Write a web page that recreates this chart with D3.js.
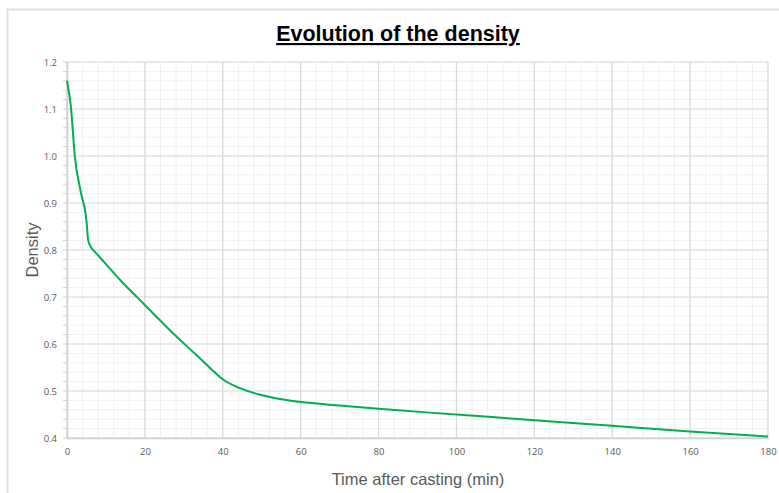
<!DOCTYPE html>
<html>
<head>
<meta charset="utf-8">
<script src="https://cdn.jsdelivr.net/npm/d3@7"></script>
<style>
body{margin:0;background:#fff;}
</style>
</head>
<body>
<svg class="chart" width="779" height="493"></svg>
<script>
var timeMin = [0, 1, 2, 3.5, 5.06, 5.4, 6.07, 7.2, 10, 14, 18.3, 22, 27.7, 33.3, 37, 40, 44.4, 49.6, 54.7, 59.8, 70, 80, 100, 120, 140, 160, 180];
var density = [1.16, 1.105, 1.0, 0.925, 0.857, 0.822, 0.807, 0.796, 0.770, 0.733, 0.697, 0.666, 0.619, 0.576, 0.547, 0.525, 0.506, 0.492, 0.483, 0.477, 0.469, 0.462, 0.450, 0.438, 0.426, 0.414, 0.403];
var xTicks = [0, 20, 40, 60, 80, 100, 120, 140, 160, 180];
var yTicks = [0.4, 0.5, 0.6, 0.7, 0.8, 0.9, 1.0, 1.1, 1.2];

var svg = d3.select('.chart');
var margin = {left: 67, right: 11, top: 62, bottom: 55};
var w = 779 - margin.left - margin.right,
    h = 493 - margin.top - margin.bottom;

// chart frame
svg.append('rect')
	.attr('x', 7.5).attr('y', 9.5)
	.attr('width', 800).attr('height', 600)
	.attr('fill', 'none').attr('stroke', '#e0e0e0').attr('stroke-width', 2);

var x = d3.scaleLinear().domain([0, 180]).range([margin.left, margin.left + w]);
var y = d3.scaleLinear().domain([0.4, 1.2]).range([margin.top + h, margin.top]);

var grid = svg.append('g').attr('class', 'grid');
// minor grid
grid.selectAll('line.mx').data(d3.range(0, 181, 4)).enter().append('line')
	.attr('x1', function(d){ return x(d); }).attr('x2', function(d){ return x(d); })
	.attr('y1', y(0.4)).attr('y2', y(1.2))
	.attr('stroke', '#f0f0f0').attr('stroke-width', 1);
grid.selectAll('line.my').data(d3.range(0.4, 1.2001, 0.02)).enter().append('line')
	.attr('x1', x(0)).attr('x2', x(180))
	.attr('y1', function(d){ return y(d); }).attr('y2', function(d){ return y(d); })
	.attr('stroke', '#f0f0f0').attr('stroke-width', 1);
// major grid
grid.selectAll('line.Mx').data(xTicks).enter().append('line')
	.attr('x1', function(d){ return x(d); }).attr('x2', function(d){ return x(d); })
	.attr('y1', y(0.4)).attr('y2', y(1.2))
	.attr('stroke', '#d9d9d9').attr('stroke-width', 1.2);
grid.selectAll('line.My').data(yTicks).enter().append('line')
	.attr('x1', x(0)).attr('x2', x(180))
	.attr('y1', function(d){ return y(d); }).attr('y2', function(d){ return y(d); })
	.attr('stroke', '#d9d9d9').attr('stroke-width', 1.2);

// y minor tick marks
grid.selectAll('line.ty').data(d3.range(0.4, 1.2001, 0.02)).enter().append('line')
	.attr('x1', x(0) - 4).attr('x2', x(0))
	.attr('y1', function(d){ return y(d); }).attr('y2', function(d){ return y(d); })
	.attr('stroke', '#d0d0d0');

// axes
var xAxis = svg.append('g')
	.attr('transform', 'translate(0,' + y(0.4) + ')')
	.call(d3.axisBottom(x).tickValues(xTicks).tickSize(0).tickPadding(10));
var yAxis = svg.append('g')
	.attr('transform', 'translate(' + x(0) + ',0)')
	.call(d3.axisLeft(y).tickValues(yTicks).tickSize(0).tickPadding(10).tickFormat(d3.format('.1f')));
[xAxis, yAxis].forEach(function(a){
	a.select('.domain').attr('stroke', '#d0d0d0').attr('stroke-width', 1.5);
	a.selectAll('text').attr('fill', '#595959').attr('font-size', 9.5).attr('font-family', 'Open Sans, sans-serif');
});

// line
var line = d3.line()
	.x(function(d, i){ return x(timeMin[i]); })
	.y(function(d){ return y(d); })
	.curve(d3.curveMonotoneX);
svg.append('path')
	.datum(density)
	.attr('fill', 'none')
	.attr('stroke', '#00b050')
	.attr('stroke-width', 2)
	.attr('d', line);

// titles
svg.append('text')
	.attr('x', 398).attr('y', 41)
	.attr('text-anchor', 'middle')
	.attr('font-family', 'Liberation Sans, Arial, sans-serif')
	.attr('font-weight', 'bold').attr('font-size', 21.5)
	.attr('text-decoration', 'underline')
	.attr('fill', '#000')
	.text('Evolution of the density');
svg.append('text')
	.attr('x', 418).attr('y', 485)
	.attr('text-anchor', 'middle')
	.attr('font-family', 'Liberation Sans, Arial, sans-serif')
	.attr('font-size', 16.5).attr('fill', '#595959')
	.text('Time after casting (min)');
svg.append('text')
	.attr('transform', 'translate(38,250) rotate(-90)')
	.attr('text-anchor', 'middle')
	.attr('font-family', 'Liberation Sans, Arial, sans-serif')
	.attr('font-size', 16.5).attr('fill', '#595959')
	.text('Density');
</script>
</body>
</html>
